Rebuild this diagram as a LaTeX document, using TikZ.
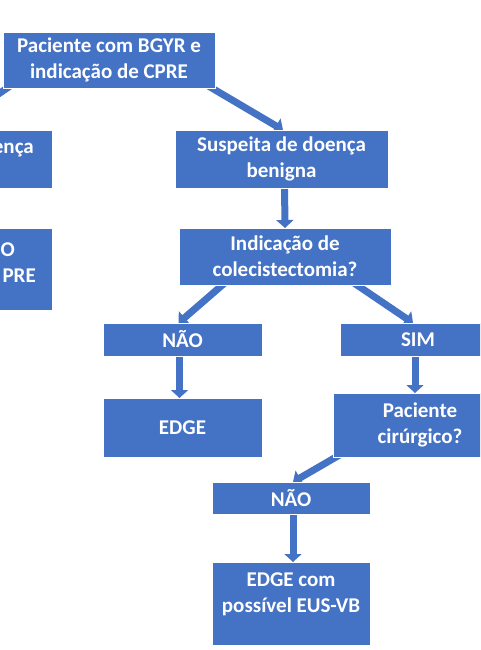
\documentclass[tikz,border=0pt]{standalone}
\usepackage{fontspec}
\setmainfont{Carlito}
\usetikzlibrary{arrows.meta,calc}
\definecolor{boxblue}{HTML}{4472C4}
\pgfdeclarelayer{background}
\pgfsetlayers{background,main}
\begin{document}
\begin{tikzpicture}[x=1pt,y=-1pt,
  box/.style={rectangle, fill=boxblue, draw=white, line width=0.6pt, inner sep=0pt, outer sep=0pt},
  txt/.style={text=white, font=\fontsize{21}{26}\selectfont\bfseries, align=center, inner sep=0pt},
  arr/.style={draw=boxblue, line width=7pt, -{Triangle[width=17pt,length=8pt]}}]
\useasboundingbox (0,0) rectangle (480,650);
\clip (0,0) rectangle (480,650);

\node[box,txt,minimum width=212pt,minimum height=56pt] (top) at (109,60) {Paciente com BGYR e\\indicação de CPRE};
\node[box,minimum width=212pt,minimum height=58pt] (lefttop) at (-54,159) {};
\node[txt,anchor=east] (lefttoptext) at (34,150) {ença};
\node[box,txt,minimum width=213pt,minimum height=58pt] (susp) at (281.5,159) {Suspeita de doença\\benigna};
\node[box,minimum width=212pt,minimum height=82pt] (leftlow) at (-54,269) {};
\node[txt,anchor=east] (leftlowa) at (15,250) {O};
\node[txt,anchor=east] (leftlowb) at (36,276) {PRE};
\node[box,txt,minimum width=212pt,minimum height=57pt] (ind) at (285,256.5) {Indicação de\\colecistectomia?};
\node[box,txt,minimum width=159pt,minimum height=33pt] (nao1) at (182.5,339.5) {NÃO};
\node[box,txt,minimum width=156pt,minimum height=33pt] (sim) at (418,339.5) {SIM};
\node[box,txt,minimum width=159pt,minimum height=59pt] (edge) at (182.5,427.5) {EDGE};
\node[box,txt,minimum width=174pt,minimum height=64pt] (pac) at (420,425) {Paciente\\cirúrgico?};
\node[box,txt,minimum width=158pt,minimum height=32pt] (nao2) at (291,498) {NÃO};
\node[box,minimum width=158pt,minimum height=83pt] (edgecom) at (291,603.5) {};
\node[txt] (edgecomtext) at (291,594.5) {EDGE com\\possível EUS-VB};

\begin{pgfonlayer}{background}
\draw[arr] ($(top.south west)+(10,-4)$) -- (lefttop.north);
\draw[arr] ($(top.south east)+(-10,-4)$) -- ($(susp.north)+(1.5,0)$);
\draw[arr] ($(susp.south)+(3,-4)$) -- (ind.north);
\draw[arr] ($(ind.south west)+(48,-4)$) -- ($(nao1.north)+(-4,0)$);
\draw[arr] ($(ind.south east)+(-40,-4)$) -- ($(sim.north)+(-5,0)$);
\draw[arr] ($(nao1.south)+(-3,-4)$) -- ($(edge.north)+(-3,0)$);
\draw[arr] ($(sim.south)+(-3,-4)$) -- ($(pac.north)+(-5,0)$);
\draw[arr] ($(pac.south west)+(10,-4)$) -- ($(nao2.north)+(2,0)$);
\draw[arr] ($(nao2.south)+(2,-4)$) -- ($(edgecom.north)+(2,0)$);
\end{pgfonlayer}
\end{tikzpicture}
\end{document}
